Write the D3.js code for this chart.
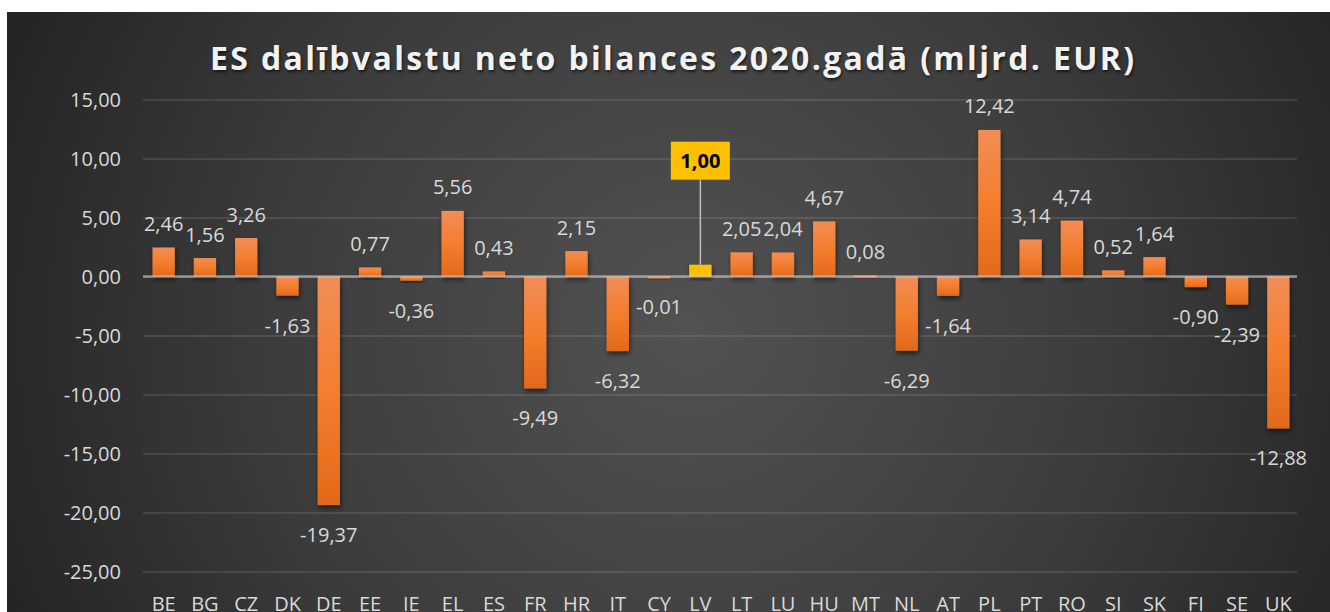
<!DOCTYPE html>
<html>
<head>
<meta charset="utf-8">
<script src="https://cdn.jsdelivr.net/npm/d3@7"></script>
<style>
  body { margin: 0; background: #ffffff; }
  svg { display: block; }
  text { font-family: "Open Sans", "Noto Sans", sans-serif; }
</style>
</head>
<body>
<div class="container"></div>
<script>
var categories = ['BE','BG','CZ','DK','DE','EE','IE','EL','ES','FR','HR','IT','CY','LV',
                  'LT','LU','HU','MT','NL','AT','PL','PT','RO','SI','SK','FI','SE','UK'];
var values = [2.46, 1.56, 3.26, -1.63, -19.37, 0.77, -0.36, 5.56, 0.43, -9.49, 2.15, -6.32, -0.01, 1.00,
              2.05, 2.04, 4.67, 0.08, -6.29, -1.64, 12.42, 3.14, 4.74, 0.52, 1.64, -0.90, -2.39, -12.88];
var highlight = 'LV';
var yTicks = [15, 10, 5, 0, -5, -10, -15, -20, -25];
var yDomain = [-25, 15];
var title = 'ES dalībvalstu neto bilances 2020.gadā (mljrd. EUR)';

var width = 1330;
var height = 612;
var plotLeft = 143, plotRight = 1299, plotTop = 99.5, plotBottom = 571.5;

var locale = d3.formatLocale({decimal: ',', thousands: ' ', grouping: [3], currency: ['', '€'], minus: '-'});
var fmt = locale.format('.2f');

var data = categories.map(function(c, i) { return {cat: c, value: values[i]}; });

var XScale = d3.scaleBand()
    .domain(categories)
    .range([plotLeft, plotRight])
    .paddingInner(0.46)
    .paddingOuter(0.23);

var YScale = d3.scaleLinear()
    .domain(yDomain)
    .range([plotBottom, plotTop]);

var svg = d3.select('.container').append('svg')
    .attr('width', width)
    .attr('height', height);

var defs = svg.append('defs');

var bg = defs.append('radialGradient')
    .attr('id', 'bg')
    .attr('gradientUnits', 'userSpaceOnUse')
    .attr('cx', 690).attr('cy', 330).attr('r', 760);
bg.append('stop').attr('offset', '0%').attr('stop-color', '#525252');
bg.append('stop').attr('offset', '55%').attr('stop-color', '#3c3c3c');
bg.append('stop').attr('offset', '100%').attr('stop-color', '#232323');

var barGrad = defs.append('linearGradient')
    .attr('id', 'barGrad')
    .attr('x1', 0).attr('y1', 0).attr('x2', 0).attr('y2', 1);
barGrad.append('stop').attr('offset', '0%').attr('stop-color', '#f18d57');
barGrad.append('stop').attr('offset', '50%').attr('stop-color', '#f47e2e');
barGrad.append('stop').attr('offset', '100%').attr('stop-color', '#e2691a');

var shadow = defs.append('filter')
    .attr('id', 'shadow')
    .attr('x', '-30%').attr('y', '-30%').attr('width', '160%').attr('height', '160%');
shadow.append('feDropShadow')
    .attr('dx', 1).attr('dy', 3).attr('stdDeviation', 2.5)
    .attr('flood-color', '#000').attr('flood-opacity', 0.55);

// panel
svg.append('rect')
    .attr('x', 7).attr('y', 12)
    .attr('width', width).attr('height', height)
    .attr('fill', 'url(#bg)');

// title
svg.append('text')
    .attr('x', 672).attr('y', 70)
    .attr('text-anchor', 'middle')
    .attr('font-size', 32)
    .attr('font-weight', 700)
    .attr('fill', '#f2f2f2')
    .attr('textLength', 924)
    .attr('lengthAdjust', 'spacing')
    .style('text-shadow', '1px 2px 3px rgba(0,0,0,0.6)')
    .text(title);

// y axis + gridlines
var yAxis = d3.axisLeft(YScale)
    .tickValues(yTicks)
    .tickFormat(fmt)
    .tickSizeInner(-(plotRight - 2 - plotLeft))
    .tickSizeOuter(0)
    .tickPadding(22);

var yg = svg.append('g')
    .attr('transform', 'translate(' + plotLeft + ',0)')
    .call(yAxis);
yg.select('.domain').remove();
yg.selectAll('.tick line')
    .attr('stroke', '#ffffff')
    .attr('stroke-opacity', 0.1)
    .attr('stroke-width', 2);
yg.selectAll('.tick text')
    .attr('font-size', 20)
    .attr('fill', '#d9d9d9')
    .attr('dy', '0.36em');

// x labels (cut at the bottom edge, as in the source image)
var xAxis = d3.axisBottom(XScale).tickSize(0).tickPadding(0);
var xg = svg.append('g')
    .attr('transform', 'translate(0,' + 611 + ')')
    .call(xAxis);
xg.select('.domain').remove();
xg.selectAll('.tick text')
    .attr('font-size', 20)
    .attr('fill', '#d9d9d9')
    .attr('dy', 0);

// bars
var y0 = YScale(0);
svg.append('g').selectAll('rect')
    .data(data)
    .enter().append('rect')
    .attr('x', function(d) { return XScale(d.cat); })
    .attr('width', XScale.bandwidth())
    .attr('y', function(d) { return d.value >= 0 ? YScale(d.value) : y0; })
    .attr('height', function(d) { return Math.max(2, Math.abs(YScale(d.value) - y0)); })
    .attr('fill', function(d) { return d.cat === highlight ? '#ffc000' : 'url(#barGrad)'; })
    .attr('filter', 'url(#shadow)');

// zero line
svg.append('line')
    .attr('x1', plotLeft).attr('x2', plotRight - 2)
    .attr('y1', y0).attr('y2', y0)
    .attr('stroke', '#d0d0d0')
    .attr('stroke-opacity', 0.6)
    .attr('stroke-width', 2.5);

// data labels
var cx = function(d) { return XScale(d.cat) + XScale.bandwidth() / 2; };
svg.append('g').selectAll('text')
    .data(data.filter(function(d) { return d.cat !== highlight; }))
    .enter().append('text')
    .attr('x', cx)
    .attr('y', function(d) { return d.value >= 0 ? YScale(d.value) - 16.5 : YScale(d.value) + 37; })
    .attr('text-anchor', 'middle')
    .attr('font-size', 20)
    .attr('fill', '#d9d9d9')
    .text(function(d) { return fmt(d.value); });

// highlighted callout
var hl = data.filter(function(d) { return d.cat === highlight; })[0];
var boxBottom = YScale(hl.value) - 85;
var call = svg.append('g');
call.append('line')
    .attr('x1', cx(hl)).attr('x2', cx(hl))
    .attr('y1', boxBottom).attr('y2', YScale(hl.value))
    .attr('stroke', '#bfbfbf')
    .attr('stroke-width', 1.5);
call.append('rect')
    .attr('x', cx(hl) - 29.5).attr('y', boxBottom - 38)
    .attr('width', 59).attr('height', 38)
    .attr('fill', '#ffc000');
call.append('text')
    .attr('x', cx(hl)).attr('y', boxBottom - 12)
    .attr('text-anchor', 'middle')
    .attr('font-size', 20)
    .attr('font-weight', 700)
    .attr('fill', '#000000')
    .text(fmt(hl.value));
</script>
</body>
</html>
